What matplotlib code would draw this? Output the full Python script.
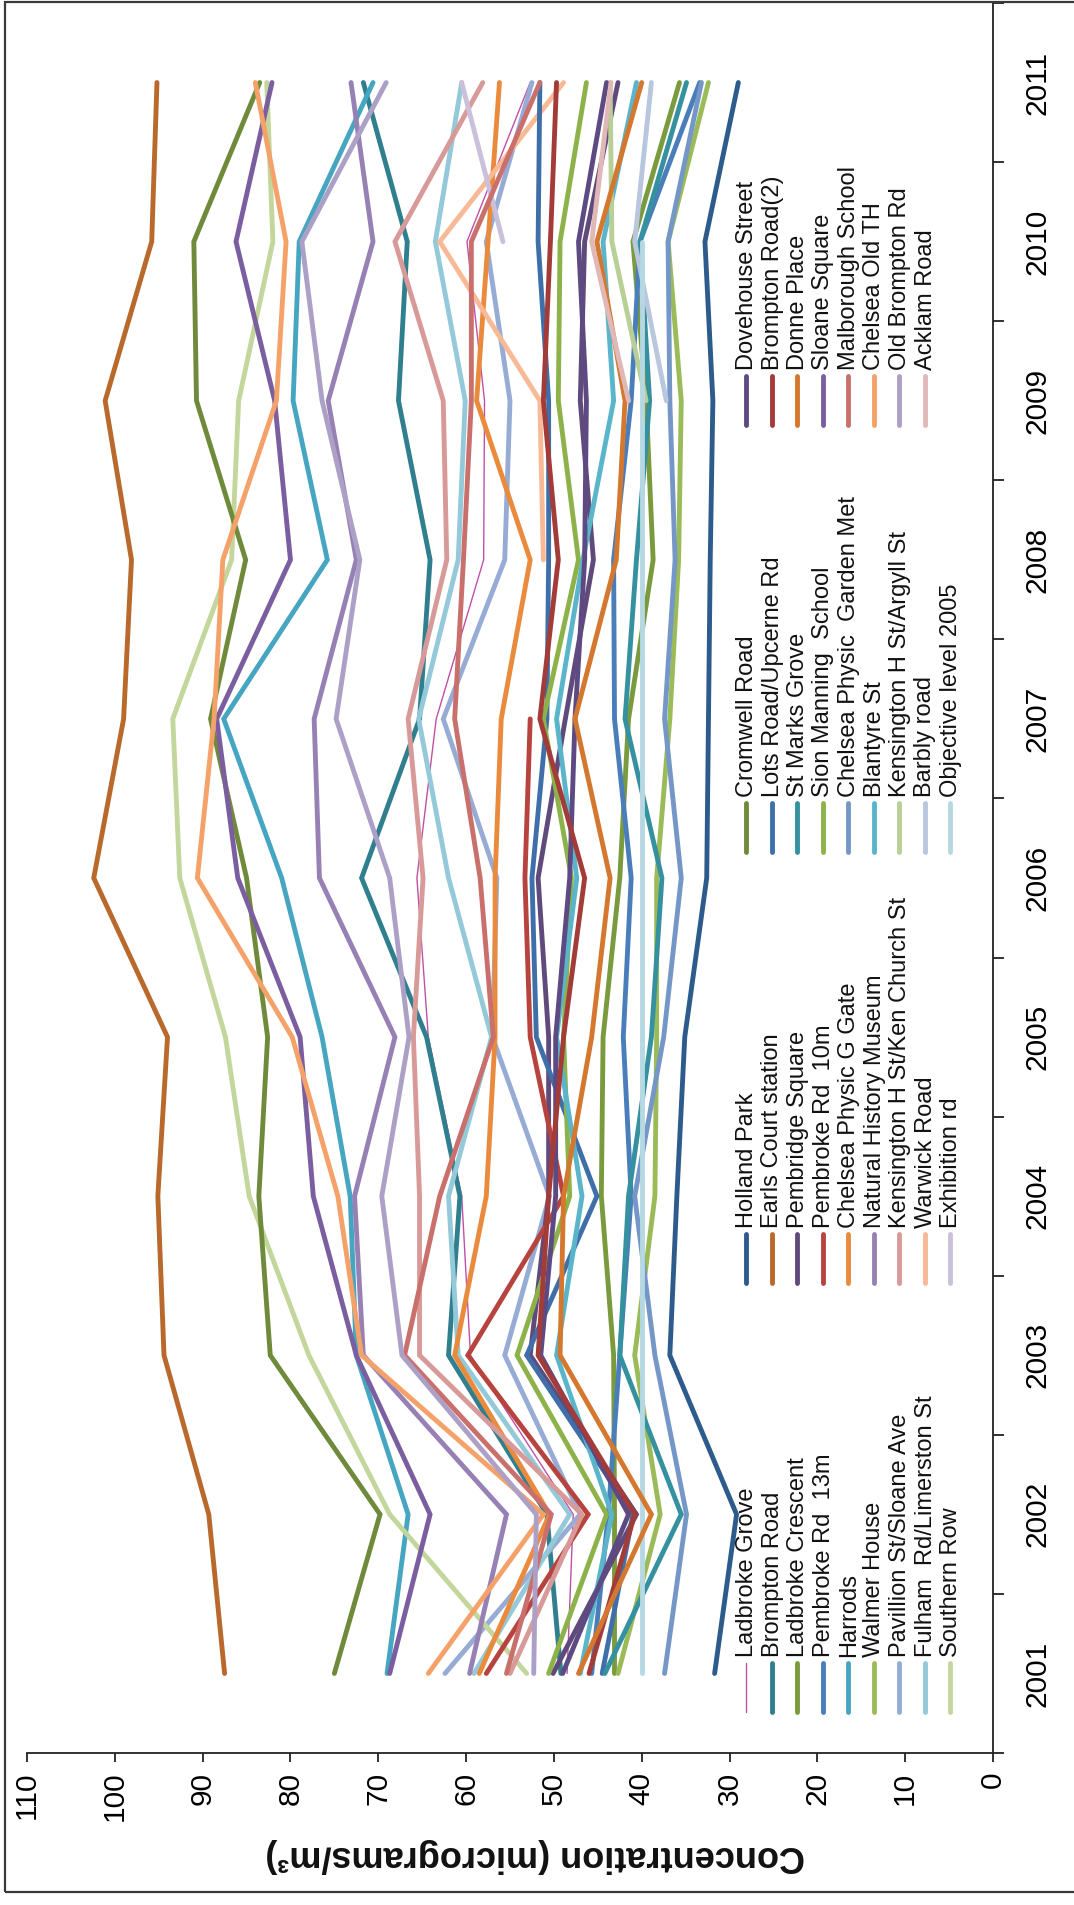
import numpy as np
import matplotlib
matplotlib.use("Agg")
import matplotlib.pyplot as plt
from matplotlib.patches import Rectangle

plt.rcParams['font.family'] = ['Liberation Sans', 'DejaVu Sans']

N = np.nan
years = [2001, 2002, 2003, 2004, 2005, 2006, 2007, 2008, 2009, 2010, 2011]
value_ticks = [0, 10, 20, 30, 40, 50, 60, 70, 80, 90, 100, 110]

# legend columns (as laid out in the chart)
legend_cols = [
    ['Ladbroke Grove', 'Brompton Road', 'Ladbroke Crescent', 'Pembroke Rd  13m', 'Harrods',
     'Walmer House', 'Pavillion St/Sloane Ave', 'Fulham  Rd/Limerston St', 'Southern Row'],
    ['Holland Park', 'Earls Court station', 'Pembridge Square', 'Pembroke Rd  10m',
     'Chelsea Physic G Gate', 'Natural History Museum', 'Kensington H St/Ken Church St',
     'Warwick Road', 'Exhibition rd'],
    ['Cromwell Road', 'Lots Road/Upcerne Rd', 'St Marks Grove', 'Sion Manning  School',
     'Chelsea Physic  Garden Met', 'Blantyre St', 'Kensington H St/Argyll St', 'Barbly road',
     'Objective level 2005'],
    ['Dovehouse Street', 'Brompton Road(2)', 'Donne Place', 'Sloane Square', 'Malborough School',
     'Chelsea Old TH', 'Old Brompton Rd', 'Acklam Road'],
]

ladbroke_grove = [48.5, 47.8, 59.5, 60.5, 64.3, 65.6, 63.4, 58.0, 57.9, 59.9, 52.7]
brompton_road = [49.2, 50.8, 62.0, 60.7, 64.5, 71.9, 65.3, 64.1, 67.7, 66.7, 71.7]
ladbroke_crescent = [43.1, 43.1, 43.2, 44.6, 44.4, 42.5, 41.5, 38.7, 39.5, 41.0, 35.7]
pembroke_13m = [45.7, 43.8, 42.5, 41.2, 42.1, 41.2, 43.1, 43.2, 41.2, 40.2, 33.4]
harrods = [69.0, 66.6, 72.5, 73.2, 76.4, 81.0, 87.6, 75.8, 79.7, 79.0, 70.6]
walmer_house = [42.7, 37.9, 40.8, 38.5, 38.3, 38.3, 36.8, 35.8, 35.5, 37.0, 32.4]
pavillion = [62.4, 47.0, 55.6, 50.5, 57.0, 56.5, 62.6, 55.6, 55.0, 57.7, 52.5]
fulham_rd = [59.1, 48.2, 60.9, 62.0, 57.1, 62.0, 65.4, 60.9, 60.1, 63.5, 60.5]
southern_row = [53.1, 68.7, 77.9, 84.7, 87.4, 92.6, 93.4, 86.7, 85.9, 82.0, 82.7]
holland_park = [31.7, 29.2, 36.8, 36.0, 35.1, 32.6, 32.4, 32.2, 31.9, 32.8, 29.0]
earls_court = [87.5, 89.3, 94.4, 95.1, 94.0, 102.4, 99.0, 98.1, 101.1, 95.8, 95.2]
pembridge_sq = [50.1, 40.6, 52.7, 50.6, 50.6, 51.8, 48.7, 45.5, 47.0, 46.5, 42.7]
pembroke_10m = [57.7, 46.1, 59.8, 48.9, 52.7, 53.3, 52.7, N, N, N, N]
physic_g_gate = [58.5, 50.5, 61.3, 57.7, 56.7, 56.7, 56.0, 52.7, 58.8, 57.5, 56.2]
nat_history = [59.6, 55.4, 71.7, 72.7, 68.1, 76.7, 77.3, 72.5, 75.7, 70.6, 73.1]
ken_church_st = [55.0, 46.8, 65.3, 65.3, 66.0, 64.9, 66.6, 62.2, 62.6, 68.1, 58.1]
warwick_road = [N, N, N, N, N, N, N, 51.2, 51.6, 63.0, 48.9]
exhibition_rd = [N, N, N, N, N, N, N, N, N, 55.8, 60.5]
cromwell_road = [75.0, 69.8, 82.3, 83.6, 82.6, 85.0, 89.1, 85.1, 90.7, 91.0, 83.5]
lots_road = [44.5, 41.0, 53.1, 45.1, 52.0, 52.5, 50.8, 50.6, 50.6, 51.8, 51.6]
st_marks_grove = [44.2, 35.5, 42.5, 41.5, 38.9, 37.7, 41.9, 40.6, 39.1, 40.2, 34.9]
sion_manning = [50.6, 44.0, 54.2, 48.2, 48.9, 48.0, 51.2, 47.2, 49.5, 49.3, 46.3]
physic_garden_met = [37.4, 34.9, 38.5, 40.8, 37.5, 35.5, 37.4, 36.2, 36.8, 37.0, 33.2]
blantyre_st = [47.0, 43.4, 49.7, 46.8, 49.7, 47.4, 49.7, 46.7, 43.2, 44.4, 40.6]
ken_argyll_st = [N, N, N, N, N, N, N, N, 39.5, 43.4, 43.6]
barbly_road = [N, N, N, N, N, N, N, N, 37.2, 40.8, 38.9]
objective_2005 = [40, 40, 40, 40, 40, 40, 40, 40, 40, 40, N]
dovehouse_st = [49.0, 41.5, 51.5, 49.8, 49.8, 48.2, 47.6, 46.5, 46.3, 47.2, 44.0]
brompton_road2 = [46.0, 40.8, 51.8, 50.6, 48.9, 46.5, 51.6, 49.5, 51.2, 50.4, 49.7]
donne_place = [47.2, 38.9, 49.3, 48.9, 45.7, 43.6, 47.6, 42.9, 41.9, 45.1, 40.0]
sloane_square = [68.7, 64.1, 72.5, 77.4, 78.9, 86.0, 88.4, 80.0, 81.8, 86.2, 82.1]
malborough = [55.4, 50.3, 67.0, 63.0, 56.9, 58.4, 61.3, 60.3, 59.4, 59.4, 51.6]
chelsea_old_th = [64.3, 51.2, 71.9, 74.6, 79.8, 90.6, 88.7, 87.7, 81.6, 80.5, 84.0]
old_brompton_rd = [52.3, 52.0, 67.3, 69.6, 66.5, 68.7, 74.8, 72.1, 76.4, 78.7, 69.1]
acklam_road = [N, N, N, N, N, N, N, N, 41.5, 45.7, 43.5]

series = {
    'Ladbroke Grove': (ladbroke_grove, '#c04fa8'),
    'Brompton Road': (brompton_road, '#2f7f8f'),
    'Ladbroke Crescent': (ladbroke_crescent, '#7a9a3e'),
    'Pembroke Rd  13m': (pembroke_13m, '#4a7ebb'),
    'Harrods': (harrods, '#46a5c0'),
    'Walmer House': (walmer_house, '#9bbb59'),
    'Pavillion St/Sloane Ave': (pavillion, '#97acd4'),
    'Fulham  Rd/Limerston St': (fulham_rd, '#93c9d9'),
    'Southern Row': (southern_row, '#c3d69b'),
    'Holland Park': (holland_park, '#2c5b8c'),
    'Earls Court station': (earls_court, '#b8692b'),
    'Pembridge Square': (pembridge_sq, '#604a7b'),
    'Pembroke Rd  10m': (pembroke_10m, '#b7433f'),
    'Chelsea Physic G Gate': (physic_g_gate, '#ea8a3d'),
    'Natural History Museum': (nat_history, '#9781b4'),
    'Kensington H St/Ken Church St': (ken_church_st, '#d89a98'),
    'Warwick Road': (warwick_road, '#f8b996'),
    'Exhibition rd': (exhibition_rd, '#cbc0da'),
    'Cromwell Road': (cromwell_road, '#6f8a3a'),
    'Lots Road/Upcerne Rd': (lots_road, '#3f6fa9'),
    'St Marks Grove': (st_marks_grove, '#35909f'),
    'Sion Manning  School': (sion_manning, '#8db24a'),
    'Chelsea Physic  Garden Met': (physic_garden_met, '#7597c7'),
    'Blantyre St': (blantyre_st, '#5ab5cb'),
    'Kensington H St/Argyll St': (ken_argyll_st, '#b8cf95'),
    'Barbly road': (barbly_road, '#b8c7de'),
    'Objective level 2005': (objective_2005, '#b6d8e3'),
    'Dovehouse Street': (dovehouse_st, '#5e4a82'),
    'Brompton Road(2)': (brompton_road2, '#a33b39'),
    'Donne Place': (donne_place, '#d4772f'),
    'Sloane Square': (sloane_square, '#7b5ea0'),
    'Malborough School': (malborough, '#c96f6c'),
    'Chelsea Old TH': (chelsea_old_th, '#f5a26a'),
    'Old Brompton Rd': (old_brompton_rd, '#ada0c6'),
    'Acklam Road': (acklam_road, '#dfb8b7'),
}

W, H = 1074, 1905
fig = plt.figure(figsize=(W / 100, H / 100), dpi=100)
# plot area in pixels: value axis x 27..993, year axis y 3..1753
ax = fig.add_axes([27 / W, 1 - 1753 / H, 966 / W, 1750 / H])

for name, (vals, col) in series.items():
    lw = 1.0 if name == 'Ladbroke Grove' else 3.5
    ax.plot(vals, years, color=col, lw=lw, solid_capstyle='round', solid_joinstyle='miter')

ax.set_xlim(110, 0)
ax.set_ylim(2000.5, 2011.5)
for s in ['top', 'left']:
    ax.spines[s].set_visible(False)
for s in ['bottom', 'right']:
    ax.spines[s].set_linewidth(1.3)
    ax.spines[s].set_color('#222222')

ax.set_xticks(value_ticks)
ax.set_xticklabels([str(v) for v in value_ticks], rotation=90, fontsize=21.5)
ax.tick_params(axis='x', direction='out', length=6.5, width=1.3, pad=7, color='#222222')

ax.yaxis.tick_right()
ax.set_yticks([y - 0.5 for y in years] + [2011.5])
ax.set_yticklabels([])
ax.set_yticks(years, minor=True)
ax.set_yticklabels([str(y) for y in years], minor=True, rotation=90, fontsize=21.5, va='center')
ax.tick_params(axis='y', which='major', direction='out', length=7.7, width=1.3, color='#222222')
ax.tick_params(axis='y', which='minor', length=0, pad=22)

# legend drawn by hand, rotated like the chart
def fx(px):
    return (px - 27) / 966

def fy(py):
    return (1753 - py) / 1750

col_bottoms = [1712, 1283, 852, 425]
for c, names in enumerate(legend_cols):
    yb = col_bottoms[c]
    for r, name in enumerate(names):
        xr = 746 + 25.5 * r
        vals, col = series[name]
        lw = 1.0 if name == 'Ladbroke Grove' else 3.5
        ax.plot([fx(xr), fx(xr)], [fy(yb), fy(yb - 49)], transform=ax.transAxes,
                color=col, lw=lw, solid_capstyle='round', clip_on=False)
        ax.text(fx(xr + 1), fy(yb - 55), name, transform=ax.transAxes, rotation=90,
                ha='center', va='bottom', fontsize=17, color='#111111')

fig.text(535 / W, 1 - 1855 / H, 'Concentration (micrograms/m³)', rotation=180,
         ha='center', va='center', fontsize=26, fontweight='bold', color='#111111')

# outer chart frame
fig.patches.append(Rectangle((5 / W, 1 - 1892 / H), 1.2, 1890 / H, transform=fig.transFigure,
                             fill=False, edgecolor='#3a3a3a', lw=1.6))

fig.savefig('out.png', dpi=100)
